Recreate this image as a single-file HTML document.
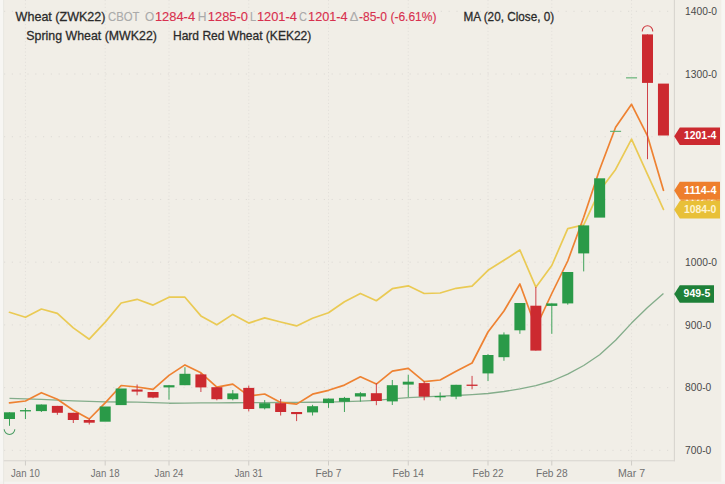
<!DOCTYPE html>
<html><head><meta charset="utf-8"><title>Wheat chart</title>
<style>
html,body{margin:0;padding:0;background:#f1eee7;}
body{width:725px;height:484px;overflow:hidden;font-family:"Liberation Sans",sans-serif;}
svg{display:block;}
text{font-family:"Liberation Sans",sans-serif;}
</style></head><body>
<svg width="725" height="484" viewBox="0 0 725 484">
<rect x="0" y="0" width="725" height="484" fill="#f1eee7"/>
<rect x="0" y="0" width="3.5" height="484" fill="#f7f6f3"/>
<rect x="721.3" y="0" width="3.7" height="484" fill="#f7f6f3"/>
<rect x="0" y="481.6" width="725" height="2.4" fill="#f5f3f0"/>

<g stroke="#d9d6d0" stroke-width="1" fill="none">
<line x1="4" y1="11.30" x2="674" y2="11.30" stroke-dasharray="1.2 6.6" stroke="#dedbd6"/>
<line x1="4" y1="74.02" x2="674" y2="74.02" stroke-dasharray="1.2 6.6" stroke="#dedbd6"/>
<line x1="4" y1="136.74" x2="674" y2="136.74" stroke-dasharray="1.2 6.6" stroke="#dedbd6"/>
<line x1="4" y1="199.46" x2="674" y2="199.46" stroke-dasharray="1.2 6.6" stroke="#dedbd6"/>
<line x1="4" y1="262.18" x2="674" y2="262.18" stroke-dasharray="1.2 6.6" stroke="#dedbd6"/>
<line x1="4" y1="324.90" x2="674" y2="324.90" stroke-dasharray="1.2 6.6" stroke="#dedbd6"/>
<line x1="4" y1="387.62" x2="674" y2="387.62" stroke-dasharray="1.2 6.6" stroke="#dedbd6"/>
<line x1="4" y1="450.34" x2="674" y2="450.34" stroke-dasharray="1.2 6.6" stroke="#dedbd6"/>
<line x1="25.45" y1="0" x2="25.45" y2="460.5" stroke-dasharray="1.1 2.33" stroke="#e2dfda"/>
<line x1="105.20" y1="0" x2="105.20" y2="460.5" stroke-dasharray="1.1 2.33" stroke="#e2dfda"/>
<line x1="169.00" y1="0" x2="169.00" y2="460.5" stroke-dasharray="1.1 2.33" stroke="#e2dfda"/>
<line x1="248.75" y1="0" x2="248.75" y2="460.5" stroke-dasharray="1.1 2.33" stroke="#e2dfda"/>
<line x1="328.50" y1="0" x2="328.50" y2="460.5" stroke-dasharray="1.1 2.33" stroke="#e2dfda"/>
<line x1="408.25" y1="0" x2="408.25" y2="460.5" stroke-dasharray="1.1 2.33" stroke="#e2dfda"/>
<line x1="488.00" y1="0" x2="488.00" y2="460.5" stroke-dasharray="1.1 2.33" stroke="#e2dfda"/>
<line x1="551.80" y1="0" x2="551.80" y2="460.5" stroke-dasharray="1.1 2.33" stroke="#e2dfda"/>
<line x1="631.55" y1="0" x2="631.55" y2="460.5" stroke-dasharray="1.1 2.33" stroke="#e2dfda"/>
</g>
<line x1="3.5" y1="460.8" x2="675" y2="460.8" stroke="#d7d4cf" stroke-width="1.1"/>
<line x1="674.4" y1="0" x2="674.4" y2="461.3" stroke="#d7d4cf" stroke-width="1.1"/>
<line x1="3.6" y1="0" x2="3.6" y2="484" stroke="#e6e3de" stroke-width="0.8"/>
<line x1="25.45" y1="460.8" x2="25.45" y2="465.5" stroke="#cfccc7" stroke-width="1"/>
<line x1="105.20" y1="460.8" x2="105.20" y2="465.5" stroke="#cfccc7" stroke-width="1"/>
<line x1="169.00" y1="460.8" x2="169.00" y2="465.5" stroke="#cfccc7" stroke-width="1"/>
<line x1="248.75" y1="460.8" x2="248.75" y2="465.5" stroke="#cfccc7" stroke-width="1"/>
<line x1="328.50" y1="460.8" x2="328.50" y2="465.5" stroke="#cfccc7" stroke-width="1"/>
<line x1="408.25" y1="460.8" x2="408.25" y2="465.5" stroke="#cfccc7" stroke-width="1"/>
<line x1="488.00" y1="460.8" x2="488.00" y2="465.5" stroke="#cfccc7" stroke-width="1"/>
<line x1="551.80" y1="460.8" x2="551.80" y2="465.5" stroke="#cfccc7" stroke-width="1"/>
<line x1="631.55" y1="460.8" x2="631.55" y2="465.5" stroke="#cfccc7" stroke-width="1"/>
<polyline points="9.50,398.30 25.45,398.80 41.40,399.30 57.35,400.05 73.30,400.80 89.25,401.30 105.20,401.80 121.15,402.00 137.10,402.20 153.05,402.70 169.00,403.20 184.95,403.07 200.90,402.93 216.85,402.80 232.80,402.73 248.75,402.67 264.70,402.60 280.65,402.50 296.60,402.40 312.55,402.25 328.50,402.10 344.45,401.65 360.40,401.20 376.35,400.40 392.30,398.80 408.25,397.60 424.20,396.80 440.15,396.20 456.10,395.50 472.05,394.60 488.00,393.50 503.95,391.50 519.90,388.90 535.85,385.60 551.80,381.00 567.75,374.20 583.70,365.50 599.65,354.80 615.60,340.30 631.55,323.10 647.50,307.60 663.45,293.50" fill="none" stroke="#84ad8b" stroke-width="1.35" stroke-linejoin="round"/>
<polyline points="9.50,312.30 25.45,317.30 41.40,309.00 57.35,313.40 73.30,327.90 89.25,339.20 105.20,322.10 121.15,303.00 137.10,299.30 153.05,305.10 169.00,297.20 184.95,297.20 200.90,315.90 216.85,324.80 232.80,314.40 248.75,323.10 264.70,317.90 280.65,322.00 296.60,325.90 312.55,318.30 328.50,312.70 344.45,301.70 360.40,293.40 376.35,300.70 392.30,288.70 408.25,285.80 424.20,293.50 440.15,293.00 456.10,288.30 472.05,286.20 488.00,270.30 503.95,260.30 519.90,250.00 535.85,287.20 551.80,265.50 567.75,228.60 583.70,224.80 599.65,190.70 615.60,169.40 631.55,139.10 647.50,174.30 663.45,209.40" fill="none" stroke="#eaca54" stroke-width="1.7" stroke-linejoin="round" stroke-linecap="round"/>
<polyline points="9.50,402.80 25.45,401.00 41.40,392.70 57.35,399.30 73.30,410.30 89.25,419.00 105.20,402.80 121.15,385.50 137.10,387.00 153.05,389.30 169.00,375.40 184.95,364.90 200.90,372.80 216.85,387.20 232.80,384.10 248.75,395.90 264.70,394.00 280.65,402.40 296.60,404.10 312.55,394.20 328.50,390.30 344.45,385.10 360.40,376.80 376.35,384.10 392.30,371.20 408.25,368.40 424.20,381.70 440.15,380.00 456.10,371.30 472.05,363.00 488.00,332.00 503.95,311.00 519.90,284.00 535.85,327.50 551.80,293.50 567.75,261.00 583.70,217.30 599.65,169.50 615.60,127.30 631.55,104.30 647.50,135.90 663.45,190.30" fill="none" stroke="#ee8232" stroke-width="1.7" stroke-linejoin="round" stroke-linecap="round"/>
<line x1="9.50" y1="412.3" x2="9.50" y2="425.8" stroke="#3fa35a" stroke-width="1"/>
<rect x="4.00" y="412.3" width="11" height="6.70" fill="#2a9a48"/>
<line x1="25.45" y1="408" x2="25.45" y2="419" stroke="#3fa35a" stroke-width="1"/>
<rect x="19.95" y="410.1" width="11" height="1.30" fill="#2a9a48"/>
<line x1="41.40" y1="404.5" x2="41.40" y2="412" stroke="#3fa35a" stroke-width="1"/>
<rect x="35.90" y="404.5" width="11" height="6.60" fill="#2a9a48"/>
<line x1="57.35" y1="405.9" x2="57.35" y2="414.8" stroke="#d0434a" stroke-width="1"/>
<rect x="51.85" y="405.9" width="11" height="6.90" fill="#cc2a30"/>
<line x1="73.30" y1="412.8" x2="73.30" y2="423" stroke="#d0434a" stroke-width="1"/>
<rect x="67.80" y="412.8" width="11" height="7.20" fill="#cc2a30"/>
<line x1="89.25" y1="418.5" x2="89.25" y2="424.5" stroke="#d0434a" stroke-width="1"/>
<rect x="83.75" y="420" width="11" height="2.70" fill="#cc2a30"/>
<rect x="99.70" y="406.5" width="11" height="15.20" fill="#2a9a48"/>
<rect x="115.65" y="388.5" width="11" height="16.60" fill="#2a9a48"/>
<line x1="137.10" y1="384.5" x2="137.10" y2="395.3" stroke="#d0434a" stroke-width="1"/>
<rect x="131.60" y="389.5" width="11" height="2.10" fill="#cc2a30"/>
<line x1="153.05" y1="392" x2="153.05" y2="398.2" stroke="#d0434a" stroke-width="1"/>
<rect x="147.55" y="392" width="11" height="5.60" fill="#cc2a30"/>
<line x1="169.00" y1="385.2" x2="169.00" y2="399.7" stroke="#3fa35a" stroke-width="1"/>
<rect x="163.50" y="385.2" width="11" height="2.20" fill="#2a9a48"/>
<line x1="184.95" y1="367.2" x2="184.95" y2="385.2" stroke="#3fa35a" stroke-width="1"/>
<rect x="179.45" y="373.8" width="11" height="11.40" fill="#2a9a48"/>
<line x1="200.90" y1="373.4" x2="200.90" y2="392" stroke="#d0434a" stroke-width="1"/>
<rect x="195.40" y="374.4" width="11" height="13.00" fill="#cc2a30"/>
<line x1="216.85" y1="387.2" x2="216.85" y2="400.3" stroke="#d0434a" stroke-width="1"/>
<rect x="211.35" y="387.2" width="11" height="12.00" fill="#cc2a30"/>
<line x1="232.80" y1="390" x2="232.80" y2="400.3" stroke="#3fa35a" stroke-width="1"/>
<rect x="227.30" y="393.4" width="11" height="5.80" fill="#2a9a48"/>
<line x1="248.75" y1="385.6" x2="248.75" y2="411.4" stroke="#d0434a" stroke-width="1"/>
<rect x="243.25" y="387.9" width="11" height="21.10" fill="#cc2a30"/>
<line x1="264.70" y1="400.1" x2="264.70" y2="409.4" stroke="#3fa35a" stroke-width="1"/>
<rect x="259.20" y="403.2" width="11" height="5.10" fill="#2a9a48"/>
<line x1="280.65" y1="399" x2="280.65" y2="415.5" stroke="#d0434a" stroke-width="1"/>
<rect x="275.15" y="403.2" width="11" height="8.80" fill="#cc2a30"/>
<line x1="296.60" y1="412" x2="296.60" y2="421.1" stroke="#d0434a" stroke-width="1"/>
<rect x="291.10" y="412" width="11" height="2.10" fill="#cc2a30"/>
<line x1="312.55" y1="404.8" x2="312.55" y2="415.5" stroke="#3fa35a" stroke-width="1"/>
<rect x="307.05" y="406.2" width="11" height="6.20" fill="#2a9a48"/>
<line x1="328.50" y1="398.6" x2="328.50" y2="407.9" stroke="#3fa35a" stroke-width="1"/>
<rect x="323.00" y="398.6" width="11" height="4.50" fill="#2a9a48"/>
<line x1="344.45" y1="396.9" x2="344.45" y2="412" stroke="#3fa35a" stroke-width="1"/>
<rect x="338.95" y="397.9" width="11" height="3.80" fill="#2a9a48"/>
<line x1="360.40" y1="392.1" x2="360.40" y2="401.7" stroke="#3fa35a" stroke-width="1"/>
<rect x="354.90" y="393.2" width="11" height="3.30" fill="#2a9a48"/>
<line x1="376.35" y1="383" x2="376.35" y2="405.2" stroke="#d0434a" stroke-width="1"/>
<rect x="370.85" y="393.2" width="11" height="7.80" fill="#cc2a30"/>
<line x1="392.30" y1="380" x2="392.30" y2="405" stroke="#3fa35a" stroke-width="1"/>
<rect x="386.80" y="385.2" width="11" height="16.20" fill="#2a9a48"/>
<line x1="408.25" y1="374.8" x2="408.25" y2="397" stroke="#3fa35a" stroke-width="1"/>
<rect x="402.75" y="381.7" width="11" height="2.90" fill="#2a9a48"/>
<line x1="424.20" y1="381" x2="424.20" y2="400.3" stroke="#d0434a" stroke-width="1"/>
<rect x="418.70" y="383.1" width="11" height="13.50" fill="#cc2a30"/>
<line x1="440.15" y1="392.4" x2="440.15" y2="400.7" stroke="#3fa35a" stroke-width="1"/>
<rect x="434.65" y="396.0" width="11" height="1.30" fill="#2a9a48"/>
<line x1="456.10" y1="384.8" x2="456.10" y2="399.2" stroke="#3fa35a" stroke-width="1"/>
<rect x="450.60" y="384.8" width="11" height="11.80" fill="#2a9a48"/>
<line x1="472.05" y1="375.9" x2="472.05" y2="389.3" stroke="#d0434a" stroke-width="1"/>
<rect x="466.55" y="384.6" width="11" height="1.30" fill="#cc2a30"/>
<line x1="488.00" y1="354.1" x2="488.00" y2="381" stroke="#3fa35a" stroke-width="1"/>
<rect x="482.50" y="355" width="11" height="18.40" fill="#2a9a48"/>
<line x1="503.95" y1="332.4" x2="503.95" y2="360.8" stroke="#3fa35a" stroke-width="1"/>
<rect x="498.45" y="334.5" width="11" height="22.70" fill="#2a9a48"/>
<line x1="519.90" y1="303" x2="519.90" y2="333.8" stroke="#3fa35a" stroke-width="1"/>
<rect x="514.40" y="303" width="11" height="27.30" fill="#2a9a48"/>
<line x1="535.85" y1="286.9" x2="535.85" y2="350.6" stroke="#d0434a" stroke-width="1"/>
<rect x="530.35" y="305.7" width="11" height="44.90" fill="#cc2a30"/>
<line x1="551.80" y1="303.4" x2="551.80" y2="333.8" stroke="#3fa35a" stroke-width="1"/>
<rect x="546.30" y="303.4" width="11" height="2.50" fill="#2a9a48"/>
<line x1="567.75" y1="272" x2="567.75" y2="304.7" stroke="#3fa35a" stroke-width="1"/>
<rect x="562.25" y="272" width="11" height="31.40" fill="#2a9a48"/>
<line x1="583.70" y1="225.4" x2="583.70" y2="271.4" stroke="#3fa35a" stroke-width="1"/>
<rect x="578.20" y="225.4" width="11" height="28.00" fill="#2a9a48"/>
<rect x="594.15" y="178.3" width="11" height="39.30" fill="#2a9a48"/>
<rect x="610.10" y="130.8" width="11" height="1.10" fill="#5aae6e"/>
<rect x="626.05" y="77.3" width="11" height="1.10" fill="#5aae6e"/>
<line x1="647.50" y1="34.4" x2="647.50" y2="159.2" stroke="#d0434a" stroke-width="1"/>
<rect x="642.00" y="34.4" width="11" height="48.50" fill="#cc2a30"/>
<rect x="657.95" y="83.6" width="11" height="51.90" fill="#cc2a30"/>
<path d="M4.20,429.2 A5.3,5.3 0 0 0 14.80,429.2" fill="none" stroke="#4a9c63" stroke-width="1.05"/>
<path d="M642.20,31.4 A5.3,5.6 0 0 1 652.80,31.4" fill="none" stroke="#cf3a40" stroke-width="1.05"/>
<text x="685.1" y="15.00" font-size="10.3" fill="#4a4a4a" textLength="31.9" lengthAdjust="spacingAndGlyphs">1400-0</text>
<text x="685.1" y="77.72" font-size="10.3" fill="#4a4a4a" textLength="31.9" lengthAdjust="spacingAndGlyphs">1300-0</text>
<text x="685.1" y="140.44" font-size="10.3" fill="#4a4a4a" textLength="31.9" lengthAdjust="spacingAndGlyphs">1200-0</text>
<text x="685.1" y="203.16" font-size="10.3" fill="#4a4a4a" textLength="31.9" lengthAdjust="spacingAndGlyphs">1100-0</text>
<text x="685.1" y="265.88" font-size="10.3" fill="#4a4a4a" textLength="31.9" lengthAdjust="spacingAndGlyphs">1000-0</text>
<text x="685.1" y="328.60" font-size="10.3" fill="#4a4a4a" textLength="26.2" lengthAdjust="spacingAndGlyphs">900-0</text>
<text x="685.1" y="391.32" font-size="10.3" fill="#4a4a4a" textLength="26.2" lengthAdjust="spacingAndGlyphs">800-0</text>
<text x="685.1" y="454.04" font-size="10.3" fill="#4a4a4a" textLength="26.2" lengthAdjust="spacingAndGlyphs">700-0</text>
<path d="M674.2,136.20 L679.8,127.40 L720,127.40 L720,145.00 L679.8,145.00 Z" fill="#cc2a30"/>
<text x="684.00" y="139.40" font-size="10.6" font-weight="bold" fill="#fff" textLength="32.4" lengthAdjust="spacingAndGlyphs">1201-4</text>
<clipPath id="hc"><rect x="680.5" y="199.3" width="39.5" height="1.8"/></clipPath>
<g clip-path="url(#hc)"><rect x="676" y="196" width="44" height="8" fill="#eea238"/><text x="684" y="201.6" font-size="10.6" font-weight="bold" fill="#fff3dc" textLength="32.4" lengthAdjust="spacingAndGlyphs">1112-2</text></g>
<path d="M674.2,190.60 L679.8,181.80 L720,181.80 L720,199.40 L679.8,199.40 Z" fill="#ee7f2c"/>
<text x="684.00" y="193.80" font-size="10.6" font-weight="bold" fill="#fff" textLength="32.4" lengthAdjust="spacingAndGlyphs">1114-4</text>
<path d="M674.2,209.80 L679.8,201.00 L720,201.00 L720,218.60 L679.8,218.60 Z" fill="#e8c038"/>
<text x="684.00" y="213.00" font-size="10.6" font-weight="bold" fill="#fff4d0" textLength="32.4" lengthAdjust="spacingAndGlyphs">1084-0</text>
<path d="M674.2,294.00 L679.8,285.20 L714,285.20 L714,302.80 L679.8,302.80 Z" fill="#1e8038"/>
<text x="683.60" y="297.20" font-size="10.6" font-weight="bold" fill="#fff" textLength="26.8" lengthAdjust="spacingAndGlyphs">949-5</text>
<text x="11.05" y="476.9" font-size="10.5" fill="#707070" textLength="28.8" lengthAdjust="spacingAndGlyphs">Jan 10</text>
<text x="90.80" y="476.9" font-size="10.5" fill="#707070" textLength="28.8" lengthAdjust="spacingAndGlyphs">Jan 18</text>
<text x="154.60" y="476.9" font-size="10.5" fill="#707070" textLength="28.8" lengthAdjust="spacingAndGlyphs">Jan 24</text>
<text x="234.65" y="476.9" font-size="10.5" fill="#707070" textLength="28.2" lengthAdjust="spacingAndGlyphs">Jan 31</text>
<text x="315.50" y="476.9" font-size="10.5" fill="#707070" textLength="26.0" lengthAdjust="spacingAndGlyphs">Feb 7</text>
<text x="392.55" y="476.9" font-size="10.5" fill="#707070" textLength="31.4" lengthAdjust="spacingAndGlyphs">Feb 14</text>
<text x="472.60" y="476.9" font-size="10.5" fill="#707070" textLength="30.8" lengthAdjust="spacingAndGlyphs">Feb 22</text>
<text x="536.00" y="476.9" font-size="10.5" fill="#707070" textLength="31.6" lengthAdjust="spacingAndGlyphs">Feb 28</text>
<text x="618.00" y="476.9" font-size="10.5" fill="#707070" textLength="27.1" lengthAdjust="spacingAndGlyphs">Mar 7</text>
<text x="15.600000000000001" y="21.2" font-size="13.5" fill="#2a2a2a" stroke="#2a2a2a" stroke-width="0.3" textLength="89.90" lengthAdjust="spacingAndGlyphs">Wheat (ZWK22)</text>
<text x="108.0" y="21.2" font-size="13.5" fill="#aaaaaa" stroke="#aaaaaa" stroke-width="0.15" textLength="31.50" lengthAdjust="spacingAndGlyphs">CBOT</text>
<text x="145.0" y="21.2" font-size="13.5" fill="#aaaaaa" stroke="#aaaaaa" stroke-width="0.15" textLength="9.20" lengthAdjust="spacingAndGlyphs">O</text>
<text x="154.9" y="21.2" font-size="13.5" fill="#d8304e" stroke="#d8304e" stroke-width="0.15" textLength="40.20" lengthAdjust="spacingAndGlyphs">1284-4</text>
<text x="197.8" y="21.2" font-size="13.5" fill="#aaaaaa" stroke="#aaaaaa" stroke-width="0.15" textLength="8.70" lengthAdjust="spacingAndGlyphs">H</text>
<text x="207.8" y="21.2" font-size="13.5" fill="#d8304e" stroke="#d8304e" stroke-width="0.15" textLength="40.20" lengthAdjust="spacingAndGlyphs">1285-0</text>
<text x="250.0" y="21.2" font-size="13.5" fill="#aaaaaa" stroke="#aaaaaa" stroke-width="0.15" textLength="6.20" lengthAdjust="spacingAndGlyphs">L</text>
<text x="256.9" y="21.2" font-size="13.5" fill="#d8304e" stroke="#d8304e" stroke-width="0.15" textLength="40.00" lengthAdjust="spacingAndGlyphs">1201-4</text>
<text x="299.0" y="21.2" font-size="13.5" fill="#aaaaaa" stroke="#aaaaaa" stroke-width="0.15" textLength="7.90" lengthAdjust="spacingAndGlyphs">C</text>
<text x="308.1" y="21.2" font-size="13.5" fill="#d8304e" stroke="#d8304e" stroke-width="0.15" textLength="39.50" lengthAdjust="spacingAndGlyphs">1201-4</text>
<text x="349.8" y="21.2" font-size="13.5" fill="#aaaaaa" stroke="#aaaaaa" stroke-width="0.15" textLength="8.50" lengthAdjust="spacingAndGlyphs">&#916;</text>
<text x="359.0" y="21.2" font-size="13.5" fill="#d8304e" stroke="#d8304e" stroke-width="0.15" textLength="77.50" lengthAdjust="spacingAndGlyphs">-85-0 (-6.61%)</text>
<text x="463.5" y="21.2" font-size="13.5" fill="#2a2a2a" stroke="#2a2a2a" stroke-width="0.3" textLength="90.60" lengthAdjust="spacingAndGlyphs">MA (20, Close, 0)</text>
<text x="26.3" y="39.8" font-size="13.5" fill="#2a2a2a" stroke="#2a2a2a" stroke-width="0.3" textLength="130.60" lengthAdjust="spacingAndGlyphs">Spring Wheat (MWK22)</text>
<text x="173.0" y="39.8" font-size="13.5" fill="#2a2a2a" stroke="#2a2a2a" stroke-width="0.3" textLength="138.30" lengthAdjust="spacingAndGlyphs">Hard Red Wheat (KEK22)</text>
</svg></body></html>
